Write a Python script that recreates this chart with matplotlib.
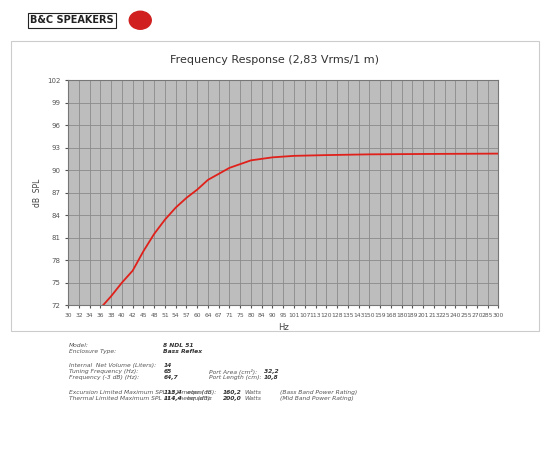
import numpy as np
import matplotlib.pyplot as plt

freq = [36.5, 38, 40, 42, 45, 48, 51, 54, 57, 60, 64, 67, 71, 75, 80, 90, 101, 120, 150, 201, 300]
spl = [72.0, 73.2, 75.0, 76.6, 79.2, 81.5, 83.4, 85.0, 86.3, 87.4, 88.7, 89.5, 90.3, 90.8, 91.3, 91.7, 91.9, 92.0, 92.1, 92.15, 92.2]
xticks = [30, 32, 34, 36, 38, 40, 42, 45, 48, 51, 54, 57, 60, 64, 67, 71, 75, 80, 84, 90, 95, 101,
          107, 113, 120, 128, 135, 143, 150, 159, 168, 180, 189, 201, 213, 225, 240, 255, 270, 285, 300]
yticks = list(range(72, 103, 3))

# the chart spaces its tick frequencies evenly, so map frequency to tick index
tick_idx = np.arange(len(xticks))
def f2x(f):
    return np.interp(np.log(f), np.log(xticks), tick_idx)

fig = plt.figure(figsize=(5.5, 4.5), dpi=100)
ax = fig.add_axes([0.124, 0.322, 0.782, 0.5])
ax.set_facecolor('#bdbdbd')
ax.plot(f2x(np.array(freq)), spl, color='#e0201a', lw=1.3)
ax.set_xlim(0, len(xticks) - 1)
ax.set_ylim(72, 102)
ax.set_xticks(tick_idx)
ax.set_xticklabels([str(t) for t in xticks], fontsize=4.3, color='#555555')
ax.set_yticks(yticks)
ax.set_yticklabels([str(t) for t in yticks], fontsize=5, color='#555555')
ax.grid(True, color='#8a8a8a', lw=0.6)
ax.tick_params(length=2, color='#555555')
for s in ax.spines.values():
    s.set_color('#777777')
ax.set_xlabel('Hz', fontsize=6, color='#444444')
ax.set_ylabel('dB  SPL', fontsize=5.5, color='#444444')
fig.text(0.5, 0.86, 'Frequency Response (2,83 Vrms/1 m)', ha='center', fontsize=8, color='#333333')

# outer frame
fig.patches.append(plt.Rectangle((0.02, 0.265), 0.96, 0.645, transform=fig.transFigure,
                                 fill=False, ec='#cccccc', lw=0.8))
# logo
fig.text(0.055, 0.955, 'B&C SPEAKERS', fontsize=7, weight='bold', color='#222222', va='center',
         bbox=dict(boxstyle='square,pad=0.25', fc='white', ec='#222222', lw=0.8))
fig.patches.append(plt.Circle((0.255, 0.955), 0.02, transform=fig.transFigure, color='#d02020', zorder=-1))

labels = ['Model:', 'Enclosure Type:', 'Internal  Net Volume (Liters):', 'Tuning Frequency (Hz):',
          'Frequency (-3 dB) (Hz):', 'Excursion Limited Maximum SPL at 1 meter (dB):',
          'Thermal Limited Maximum SPL at 1 meter (dB):']
values = ['8 NDL 51', 'Bass Reflex', '14', '65', '64,7', '113,4', '114,4']
port_labels = ['Port Area (cm²):', 'Port Length (cm):']
port_values = ['32,2', '10,8']
power_values = ['160,2', '200,0']
power_notes = ['(Bass Band Power Rating)', '(Mid Band Power Rating)']

rows_y = [0.232, 0.218, 0.188, 0.174, 0.160, 0.128, 0.114]
kw = dict(fontsize=4.3, style='italic', color='#555555', va='center')
bkw = dict(fontsize=4.3, style='italic', weight='bold', color='#333333', va='center')
for yy, lab, v in zip(rows_y, labels, values):
    fig.text(0.125, yy, lab, **kw)
    fig.text(0.297, yy, v, **bkw)
for yy, lab, v in zip(rows_y[3:5], port_labels, port_values):
    fig.text(0.38, yy, lab, **kw)
    fig.text(0.48, yy, v, **bkw)
for yy, v, note in zip(rows_y[5:], power_values, power_notes):
    fig.text(0.34, yy, 'equal to', **kw)
    fig.text(0.405, yy, v, **bkw)
    fig.text(0.445, yy, 'Watts', **kw)
    fig.text(0.51, yy, note, **kw)

fig.savefig('out.png', dpi=100)
